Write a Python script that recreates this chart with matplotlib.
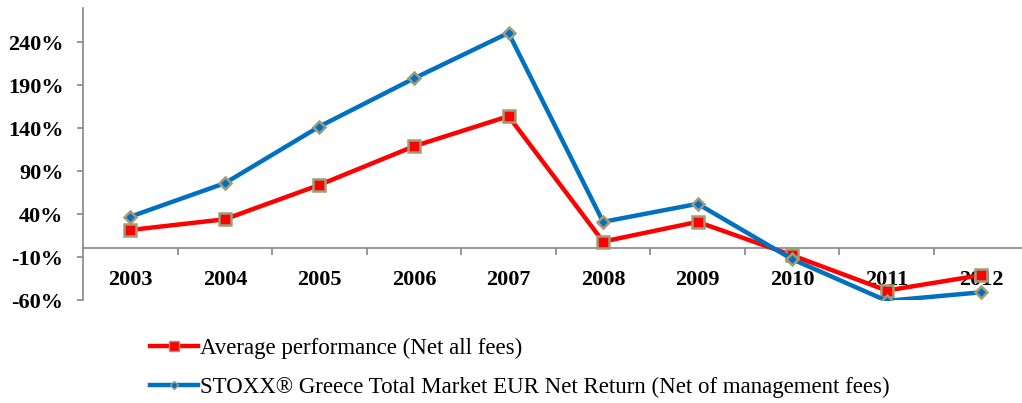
import matplotlib
matplotlib.use("Agg")
import matplotlib.pyplot as plt
from matplotlib.ticker import FixedLocator, FuncFormatter

years = ["2003", "2004", "2005", "2006", "2007", "2008", "2009", "2010", "2011", "2012"]
avg_perf = [21.5, 34, 74, 119, 154, 8, 31, -8, -49, -31]
stoxx = [37, 76, 142, 198, 251, 31, 52, -12.5, -61, -51]
yticks = [-60, -10, 40, 90, 140, 190, 240]
label_avg = "Average performance (Net all fees)"
label_stoxx = "STOXX® Greece Total Market EUR Net Return (Net of management fees)"

W, H = 1022, 403
fig = plt.figure(figsize=(W / 100, H / 100), dpi=100)
ax = fig.add_axes([83 / W, 103 / H, (1022 - 83) / W, (300 - 8) / H])

x = list(range(len(years)))
edge = "#A39A78"
ax.plot(x, avg_perf, color="#FF0000", lw=3.2, marker="s", ms=9,
        mfc="#FF0000", mec=edge, mew=1.8, label=label_avg, zorder=3)
ax.plot(x, stoxx, color="#0070C0", lw=3.2, marker="D", ms=6.5,
        mfc="#0070C0", mec=edge, mew=1.8, label=label_stoxx, zorder=4)

ax.set_xlim(-0.5, 9.43)
ax.set_ylim(-60, 280)

for s in ["top", "right"]:
    ax.spines[s].set_visible(False)
ax.spines["bottom"].set_position(("data", 0))
ax.spines["bottom"].set_color("#868686")
ax.spines["left"].set_color("#868686")
ax.spines["bottom"].set_linewidth(1.2)
ax.spines["left"].set_linewidth(1.2)

ax.yaxis.set_major_locator(FixedLocator(yticks))
ax.yaxis.set_major_formatter(FuncFormatter(lambda v, p: f"{int(v)}%"))
ax.tick_params(axis="y", direction="out", length=4.5, color="#868686", width=1.2, pad=9.5)

ax.set_xticks(x)
ax.set_xticklabels(years)
ax.set_xticks([i + 0.5 for i in range(9)], minor=True)
ax.tick_params(axis="x", which="major", length=0, pad=15.5)
ax.tick_params(axis="x", which="minor", direction="out", length=5, color="#868686", width=1.2)

for lab in ax.get_xticklabels() + ax.get_yticklabels():
    lab.set_fontfamily("Liberation Serif")
    lab.set_fontweight("bold")
    lab.set_fontsize(16)

leg = fig.legend(loc="upper left", bbox_to_anchor=(150 / W, 1 - 338 / H),
                 frameon=False, handlelength=2.1, handletextpad=0.1,
                 labelspacing=0.75, borderaxespad=0, borderpad=0,
                 prop={"family": "Liberation Serif", "size": 16.5})
hs = leg.legend_handles
hs[0].set_markersize(6.5)
hs[0].set_markeredgewidth(1.0)
hs[1].set_markersize(4.5)
hs[1].set_markeredgewidth(1.0)

fig.savefig("out.png", dpi=100)
